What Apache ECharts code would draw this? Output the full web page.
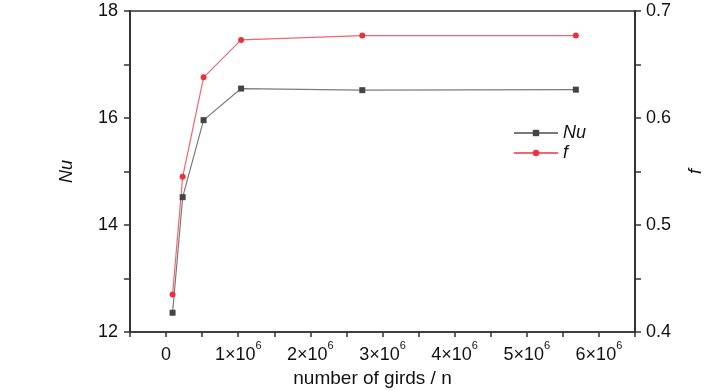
<!DOCTYPE html>
<html>
<head>
<meta charset="utf-8">
<script src="https://cdn.jsdelivr.net/npm/echarts@6/dist/echarts.min.js"></script>
<style>html,body{margin:0;padding:0;background:#fff}#c{width:728px;height:390px}</style>
</head>
<body>
<div id="c"></div>
<script>
var gridCounts = [0.09e6, 0.23e6, 0.52e6, 1.04e6, 2.72e6, 5.68e6];
var nuValues = [12.36, 14.52, 15.96, 16.55, 16.52, 16.53];
var fValues = [0.435, 0.545, 0.638, 0.673, 0.677, 0.677];
var seriesNames = ['Nu', 'f'];
var xTitle = 'number of girds / n';

var nuData = gridCounts.map(function (x, i) { return [x, nuValues[i]]; });
var fData = gridCounts.map(function (x, i) { return [x, fValues[i]]; });

var FONT = '"Liberation Sans", Arial, sans-serif';
var AX = '#333';

var chart = echarts.init(document.getElementById('c'), null, {renderer: 'canvas'});
chart.setOption({
  animation: false,
  backgroundColor: '#fff',
  grid: {left: 130, right: 93, top: 11, bottom: 58, containLabel: false, outerBoundsMode: 'none',
         show: true, borderColor: AX, borderWidth: 1.5, backgroundColor: 'transparent'},
  legend: {
    left: 508, top: 119, orient: 'vertical', itemGap: 2,
    itemWidth: 44, itemHeight: 8,
    textStyle: {fontFamily: FONT, fontSize: 18, fontStyle: 'italic', color: '#111'},
    data: seriesNames
  },
  xAxis: {
    type: 'value', min: -0.5e6, max: 6.5e6, interval: 0.5e6,
    name: xTitle, nameLocation: 'middle', nameGap: 37,
    nameTextStyle: {fontFamily: FONT, fontSize: 19, color: '#111', padding: [0, 20, 0, 0]},
    axisLine: {onZero: false, lineStyle: {color: AX, width: 1.5}},
    axisTick: {inside: false, length: 5, lineStyle: {color: AX, width: 1.5}},
    splitLine: {show: false},
    axisLabel: {
      margin: 8, color: '#111', fontFamily: FONT, fontSize: 18,
      formatter: function (v) {
        var n = Math.round(v / 1e6 * 2) / 2;
        if (n < 0 || n !== Math.round(n)) return '';
        if (n === 0) return '{n|0}';
        return '{n|' + n + '×10}{s|6}';
      },
      rich: {
        n: {fontFamily: FONT, fontSize: 18, color: '#111', lineHeight: 24, verticalAlign: 'bottom'},
        s: {fontFamily: FONT, fontSize: 11, color: '#111', lineHeight: 12, verticalAlign: 'top'}
      }
    }
  },
  yAxis: [
    {
      type: 'value', min: 12, max: 18, interval: 1, position: 'left',
      name: 'Nu', nameLocation: 'middle', nameGap: 54,
      nameTextStyle: {fontFamily: FONT, fontSize: 18, fontStyle: 'italic', color: '#111'},
      axisLine: {show: true, onZero: false, lineStyle: {color: AX, width: 2}},
      axisTick: {show: true, length: 6, lineStyle: {color: AX, width: 1.5}},
      splitLine: {show: false},
      axisLabel: {
        margin: 12, color: '#111', fontFamily: FONT, fontSize: 18,
        formatter: function (v) { return (Math.round(v) % 2 === 0) ? String(v) : ''; }
      }
    },
    {
      type: 'value', min: 0.4, max: 0.7, interval: 0.05, position: 'right',
      name: 'f', nameLocation: 'middle', nameGap: 52,
      nameTextStyle: {fontFamily: FONT, fontSize: 18, fontStyle: 'italic', color: '#111'},
      axisLine: {show: true, onZero: false, lineStyle: {color: AX, width: 2}},
      axisTick: {show: true, length: 6, lineStyle: {color: AX, width: 1.5}},
      splitLine: {show: false},
      axisLabel: {
        margin: 11, color: '#111', fontFamily: FONT, fontSize: 18,
        formatter: function (v) {
          var k = Math.round(v * 100);
          return (k % 10 === 0) ? (k / 100).toFixed(1) : '';
        }
      }
    }
  ],
  series: [
    {
      name: seriesNames[0], type: 'line', yAxisIndex: 0, data: nuData,
      symbol: 'rect', symbolSize: 6,
      lineStyle: {color: '#7a7a7a', width: 1.2},
      itemStyle: {color: '#444'}
    },
    {
      name: seriesNames[1], type: 'line', yAxisIndex: 1, data: fData,
      symbol: 'circle', symbolSize: 6,
      lineStyle: {color: '#f26470', width: 1.2},
      itemStyle: {color: '#e8333f'}
    }
  ]
});
</script>
</body>
</html>
